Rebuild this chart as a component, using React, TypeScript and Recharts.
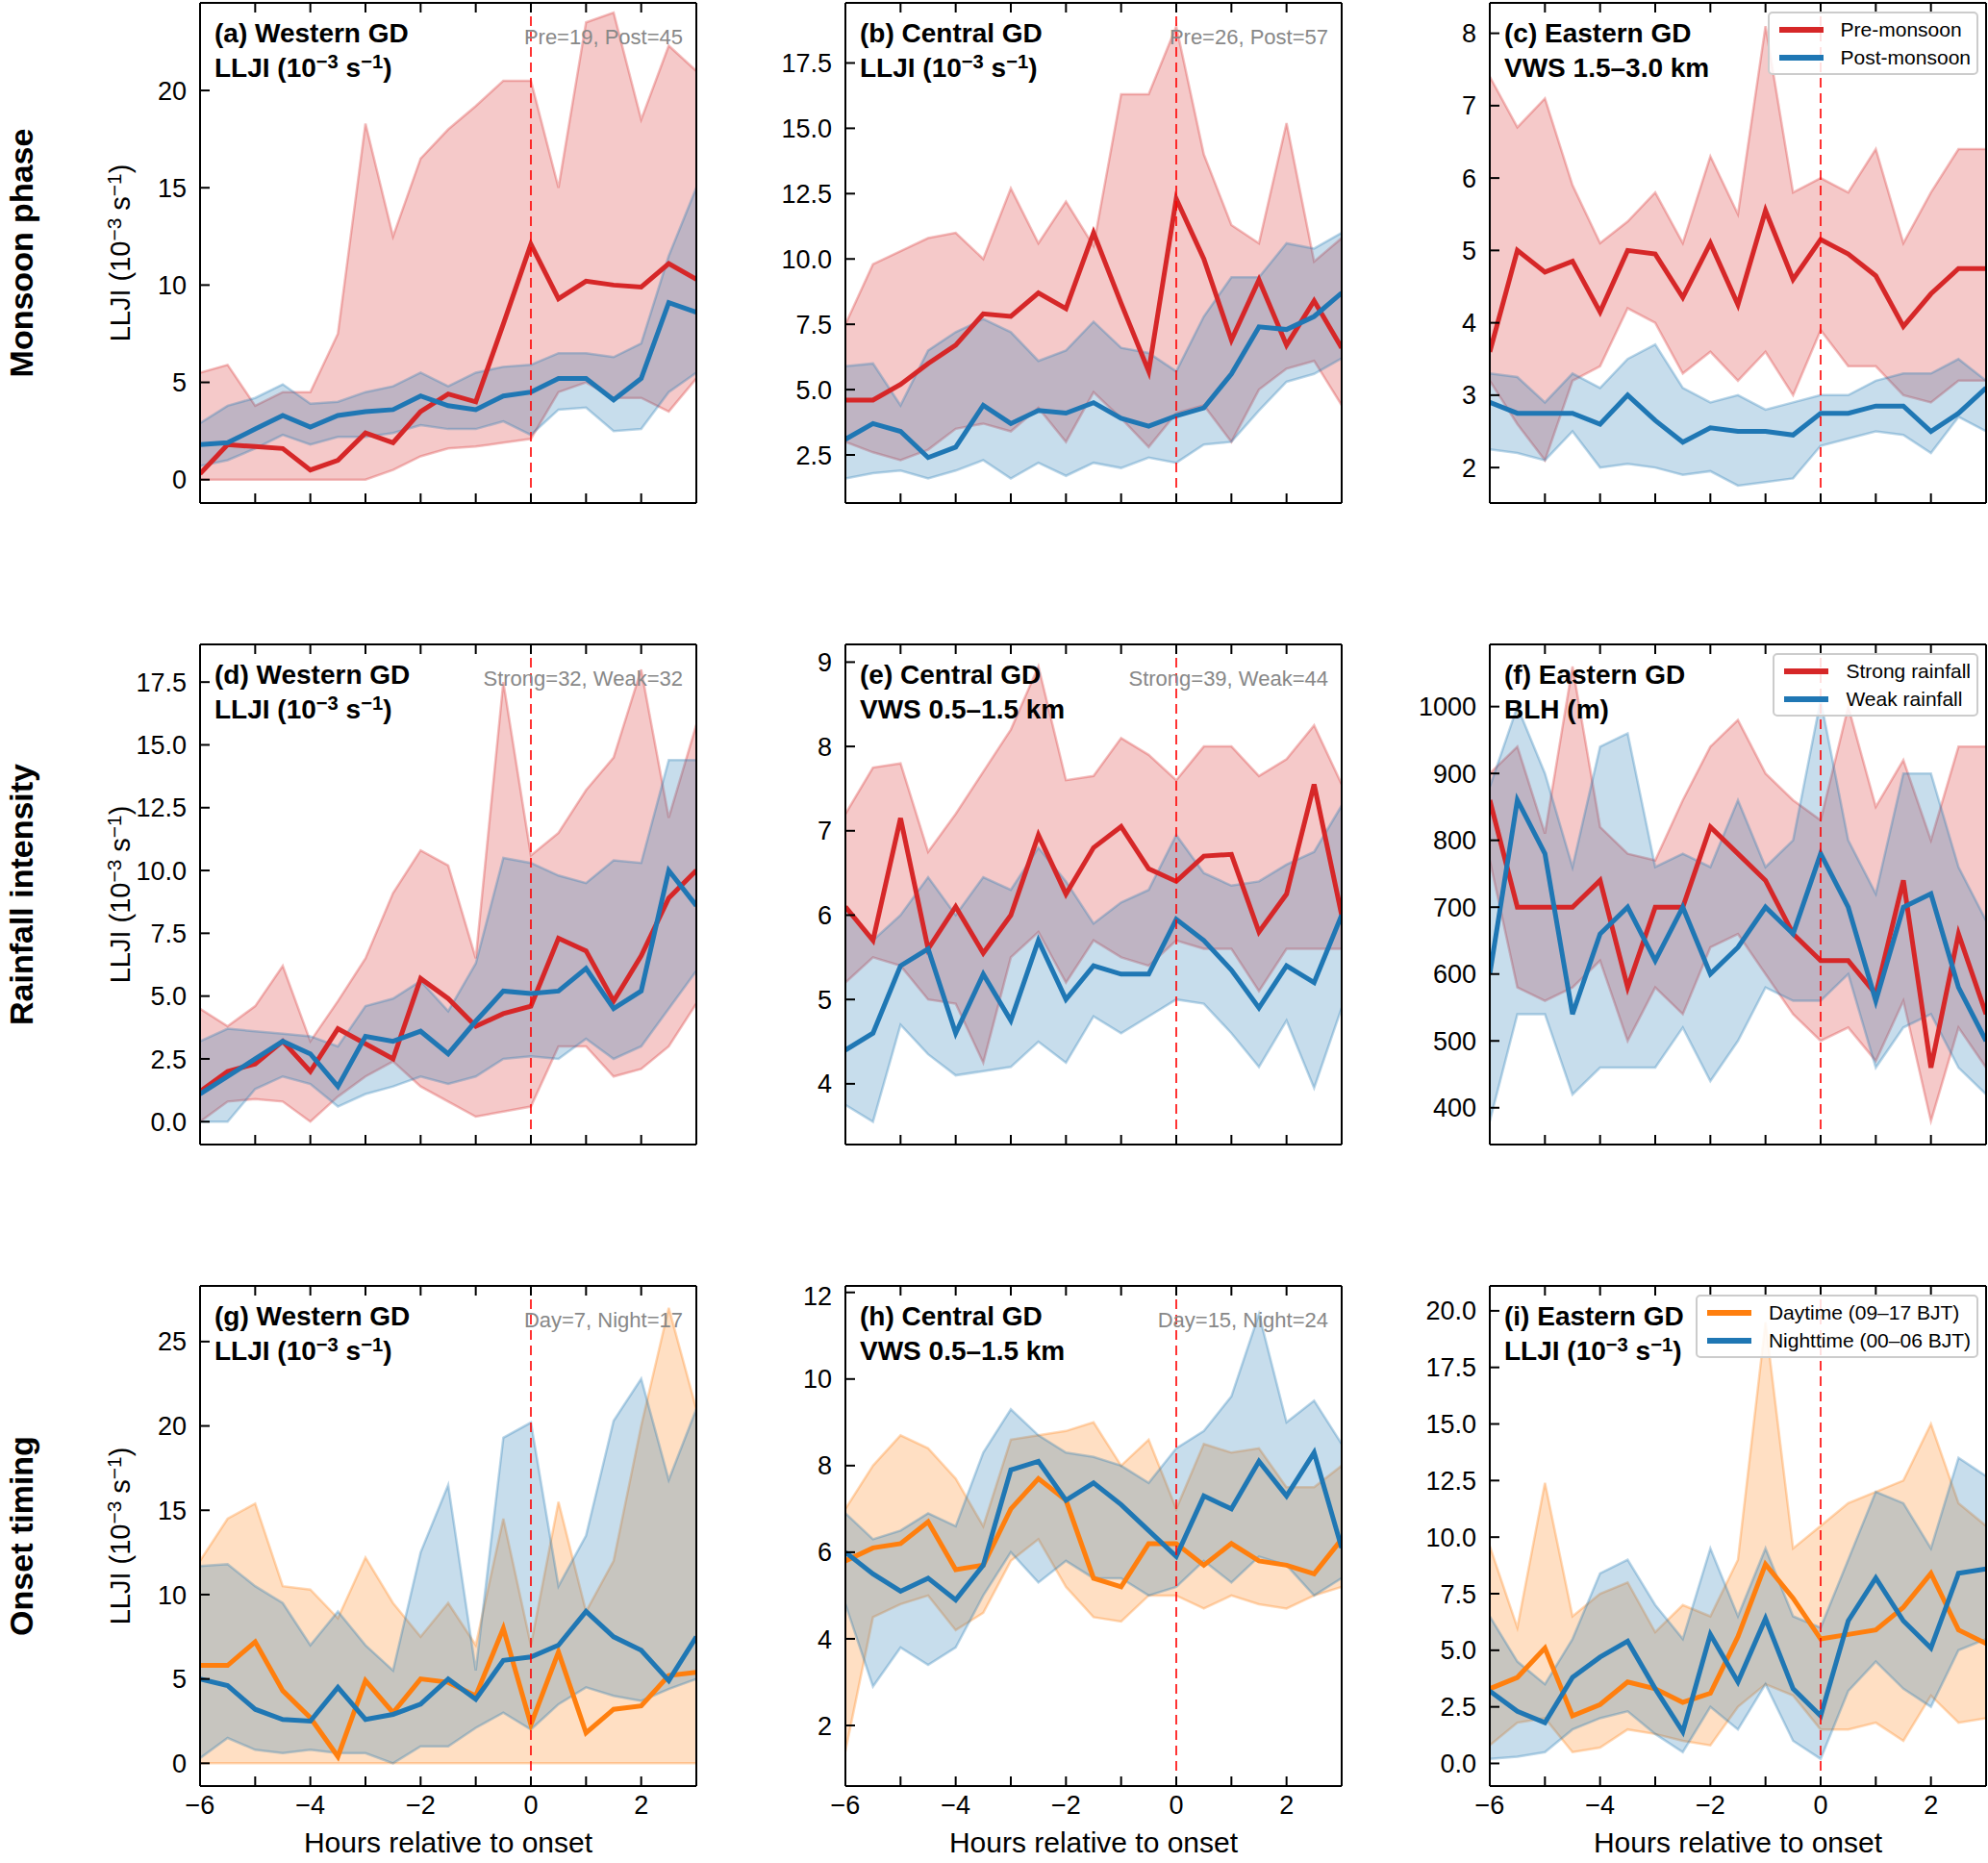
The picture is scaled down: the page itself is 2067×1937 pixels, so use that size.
import React from 'react';
import { ComposedChart, Area, Line, XAxis, YAxis, ReferenceLine } from 'recharts';

const hours = [-6, -5.5, -5, -4.5, -4, -3.5, -3, -2.5, -2, -1.5, -1, -0.5, 0, 0.5, 1, 1.5, 2, 2.5, 3];
const xTicks = [-6, -5, -4, -3, -2, -1, 0, 1, 2, 3];

// (a) Western GD, monsoon phase
const aPre = [0.3, 1.8, 1.7, 1.6, 0.5, 1.0, 2.4, 1.9, 3.5, 4.4, 4.0, 8.0, 12.1, 9.3, 10.2, 10.0, 9.9, 11.1, 10.3];
const aPreLo = [0, 0, 0, 0, 0, 0, 0, 0.5, 1.2, 1.6, 1.7, 1.9, 2.1, 4.5, 5.0, 4.2, 4.2, 3.5, 5.2];
const aPreHi = [5.5, 5.9, 3.8, 4.5, 4.5, 7.5, 18.3, 12.5, 16.5, 18.0, 19.2, 20.5, 20.5, 15.0, 23.5, 24.0, 18.5, 22.3, 21.0];
const aPost = [1.8, 1.9, 2.6, 3.3, 2.7, 3.3, 3.5, 3.6, 4.3, 3.8, 3.6, 4.3, 4.5, 5.2, 5.2, 4.1, 5.2, 9.1, 8.6];
const aPostLo = [0.7, 1.0, 1.6, 2.3, 1.8, 2.2, 2.2, 2.4, 2.8, 2.6, 2.6, 3.0, 2.3, 3.6, 3.7, 2.5, 2.6, 4.5, 5.5];
const aPostHi = [2.9, 3.8, 4.2, 4.9, 3.9, 4.0, 4.5, 4.8, 5.5, 4.8, 5.5, 5.8, 5.9, 6.5, 6.5, 6.3, 7.0, 11.5, 15.0];

// (b) Central GD, monsoon phase
const bPre = [4.6, 4.6, 5.2, 6.0, 6.7, 7.9, 7.8, 8.7, 8.1, 11.0, 8.3, 5.7, 12.3, 10.0, 6.9, 9.2, 6.7, 8.4, 6.6];
const bPreLo = [3.0, 2.6, 2.3, 2.7, 3.5, 3.7, 3.4, 4.3, 3.0, 4.9, 3.9, 2.8, 4.1, 4.4, 3.0, 5.0, 5.8, 6.1, 4.4];
const bPreHi = [7.5, 9.8, 10.3, 10.8, 11.0, 10.0, 12.7, 10.6, 12.2, 10.5, 16.3, 16.3, 18.9, 14.0, 11.3, 10.6, 15.2, 9.9, 10.8];
const bPost = [3.1, 3.7, 3.4, 2.4, 2.8, 4.4, 3.7, 4.2, 4.1, 4.5, 3.9, 3.6, 4.0, 4.3, 5.6, 7.4, 7.3, 7.8, 8.7];
const bPostLo = [1.6, 1.8, 1.9, 1.6, 1.9, 2.3, 1.6, 2.2, 1.7, 2.2, 2.0, 2.4, 2.2, 2.9, 3.0, 4.2, 5.3, 5.6, 6.2];
const bPostHi = [5.9, 6.0, 4.4, 6.5, 7.2, 7.7, 7.2, 6.1, 6.5, 7.6, 6.6, 6.4, 5.7, 7.8, 9.3, 9.3, 10.6, 10.4, 11.0];

// (c) Eastern GD, monsoon phase
const cPre = [3.6, 5.0, 4.7, 4.85, 4.15, 5.0, 4.95, 4.35, 5.1, 4.25, 5.55, 4.6, 5.15, 4.95, 4.65, 3.95, 4.4, 4.75, 4.75];
const cPreLo = [3.2, 2.6, 2.1, 3.2, 3.4, 4.2, 4.0, 3.3, 3.6, 3.2, 3.6, 3.0, 3.9, 3.4, 3.4, 3.0, 2.9, 3.2, 3.2];
const cPreHi = [7.4, 6.7, 7.1, 5.9, 5.1, 5.4, 5.8, 5.1, 6.3, 5.5, 8.1, 5.8, 6.0, 5.8, 6.4, 5.1, 5.8, 6.4, 6.4];
const cPost = [2.9, 2.75, 2.75, 2.75, 2.6, 3.0, 2.65, 2.35, 2.55, 2.5, 2.5, 2.45, 2.75, 2.75, 2.85, 2.85, 2.5, 2.75, 3.1];
const cPostLo = [2.25, 2.2, 2.1, 2.5, 2.0, 2.05, 2.0, 1.9, 1.95, 1.75, 1.8, 1.85, 2.3, 2.4, 2.5, 2.45, 2.2, 2.7, 2.5];
const cPostHi = [3.3, 3.25, 2.9, 3.3, 3.1, 3.5, 3.7, 3.1, 2.9, 3.0, 2.8, 2.9, 3.0, 3.0, 3.2, 3.3, 3.3, 3.5, 3.2];

// (d) Western GD, rainfall intensity
const dStrong = [1.2, 2.0, 2.3, 3.2, 2.0, 3.7, 3.1, 2.5, 5.7, 4.9, 3.8, 4.3, 4.6, 7.3, 6.8, 4.8, 6.6, 8.9, 10.0];
const dStrongLo = [0, 0.8, 0.9, 0.8, 0, 1.0, 1.8, 2.4, 1.4, 0.8, 0.2, 0.4, 0.6, 3.0, 3.0, 1.8, 2.1, 3.0, 4.7];
const dStrongHi = [4.5, 3.8, 4.6, 6.2, 3.2, 4.8, 6.5, 9.1, 10.8, 10.2, 6.5, 17.5, 10.6, 11.5, 13.2, 14.5, 18.0, 12.1, 15.8];
const dWeak = [1.1, 1.8, 2.5, 3.2, 2.7, 1.4, 3.4, 3.2, 3.6, 2.7, 4.0, 5.2, 5.1, 5.2, 6.1, 4.5, 5.2, 10.0, 8.6];
const dWeakLo = [0, 0, 1.3, 1.8, 1.5, 0.6, 1.1, 1.4, 1.8, 1.5, 1.8, 2.5, 2.6, 2.5, 3.3, 2.5, 3.0, 4.5, 6.0];
const dWeakHi = [3.2, 3.7, 3.6, 3.5, 3.4, 3.0, 4.6, 4.9, 5.6, 4.4, 6.3, 10.5, 10.3, 9.8, 9.5, 10.4, 10.3, 14.4, 14.4];

// (e) Central GD, rainfall intensity
const eStrong = [6.1, 5.7, 7.15, 5.6, 6.1, 5.55, 6.0, 6.95, 6.25, 6.8, 7.05, 6.55, 6.4, 6.7, 6.72, 5.8, 6.25, 7.55, 6.0];
const eStrongLo = [5.2, 5.5, 5.4, 5.0, 4.95, 4.25, 5.5, 5.8, 5.2, 5.7, 5.5, 5.4, 5.7, 5.6, 5.6, 5.1, 5.6, 5.6, 5.6];
const eStrongHi = [7.2, 7.75, 7.8, 6.75, 7.2, 7.7, 8.2, 8.95, 7.6, 7.65, 8.1, 7.9, 7.6, 8.0, 8.0, 7.65, 7.85, 8.25, 7.55];
const eWeak = [4.4, 4.6, 5.4, 5.6, 4.6, 5.3, 4.75, 5.7, 5.0, 5.4, 5.3, 5.3, 5.95, 5.7, 5.35, 4.9, 5.4, 5.2, 6.0];
const eWeakLo = [3.75, 3.55, 4.7, 4.35, 4.1, 4.15, 4.2, 4.5, 4.25, 4.8, 4.6, 4.8, 5.0, 4.95, 4.6, 4.2, 4.75, 3.95, 4.9];
const eWeakHi = [6.1, 5.7, 6.0, 6.45, 6.0, 6.45, 6.3, 6.8, 6.4, 5.9, 6.15, 6.3, 6.95, 6.5, 6.35, 6.4, 6.6, 6.75, 7.3];

// (f) Eastern GD, rainfall intensity (BLH)
const fStrong = [860, 700, 700, 700, 740, 580, 700, 700, 820, 780, 740, 660, 620, 620, 570, 740, 460, 660, 540];
const fStrongLo = [770, 580, 560, 580, 620, 500, 580, 540, 640, 660, 600, 540, 500, 520, 470, 560, 380, 520, 460];
const fStrongHi = [900, 940, 810, 1060, 820, 780, 770, 860, 940, 980, 900, 860, 830, 1000, 850, 920, 800, 940, 940];
const fWeak = [600, 860, 780, 540, 660, 700, 620, 700, 600, 640, 700, 660, 780, 700, 560, 700, 720, 580, 500];
const fWeakLo = [380, 540, 540, 420, 460, 460, 460, 520, 440, 500, 580, 560, 560, 600, 460, 520, 540, 460, 420];
const fWeakHi = [880, 1000, 900, 760, 940, 960, 760, 780, 760, 860, 760, 800, 1010, 800, 720, 900, 900, 760, 680];

// (g) Western GD, onset timing
const gDay = [5.8, 5.8, 7.2, 4.3, 2.7, 0.4, 4.9, 3.0, 5.0, 4.8, 4.0, 8.0, 2.3, 6.6, 1.8, 3.2, 3.4, 5.2, 5.4];
const gDayLo = [0, 0, 0, 0, 0, 0, 0, 0, 0, 0, 0, 0, 0, 0, 0, 0, 0, 0, 0];
const gDayHi = [12.0, 14.5, 15.4, 10.5, 10.3, 8.6, 12.2, 9.5, 7.5, 9.5, 7.0, 14.5, 7.0, 15.5, 9.0, 12.0, 20.0, 27.0, 21.0];
const gNight = [5.0, 4.6, 3.2, 2.6, 2.5, 4.5, 2.6, 2.9, 3.5, 5.0, 3.8, 6.1, 6.3, 7.0, 9.0, 7.5, 6.7, 4.9, 7.5];
const gNightLo = [0.3, 1.5, 0.8, 0.6, 0.8, 0.6, 0.6, 0, 1.0, 1.0, 2.1, 3.0, 2.0, 3.5, 4.5, 4.0, 3.7, 4.4, 5.0];
const gNightHi = [11.7, 11.8, 10.5, 9.5, 7.0, 9.0, 7.0, 5.5, 12.5, 16.5, 5.5, 19.3, 20.2, 10.5, 13.5, 20.3, 22.8, 16.8, 21.0];

// (h) Central GD, onset timing
const hDay = [5.8, 6.1, 6.2, 6.7, 5.6, 5.7, 7.0, 7.7, 7.2, 5.4, 5.2, 6.2, 6.2, 5.7, 6.2, 5.8, 5.7, 5.5, 6.3];
const hDayLo = [1.4, 4.5, 4.8, 5.0, 4.2, 4.6, 5.8, 6.3, 5.2, 4.5, 4.4, 5.0, 5.0, 4.7, 5.0, 4.8, 4.7, 5.0, 5.2];
const hDayHi = [7.0, 8.0, 8.7, 8.4, 7.7, 6.6, 8.6, 8.7, 8.8, 9.0, 8.0, 8.6, 7.0, 8.5, 8.3, 8.4, 7.5, 7.5, 8.0];
const hNight = [6.0, 5.5, 5.1, 5.4, 4.9, 5.7, 7.9, 8.1, 7.2, 7.6, 7.1, 6.5, 5.9, 7.3, 7.0, 8.1, 7.3, 8.3, 6.1];
const hNightLo = [4.8, 2.9, 3.8, 3.4, 3.8, 5.0, 6.0, 5.3, 5.8, 5.4, 5.4, 5.0, 5.2, 5.8, 5.3, 5.9, 5.7, 5.0, 5.4];
const hNightHi = [6.9, 6.3, 6.5, 6.9, 6.6, 8.3, 9.3, 8.7, 8.3, 8.2, 8.0, 7.6, 8.4, 8.8, 9.6, 11.5, 9.0, 9.5, 8.5];

// (i) Eastern GD, onset timing
const iDay = [3.3, 3.8, 5.1, 2.1, 2.6, 3.6, 3.3, 2.7, 3.1, 5.6, 8.8, 7.3, 5.5, 5.7, 5.9, 6.9, 8.4, 5.9, 5.3];
const iDayLo = [0.8, 1.8, 2.0, 0.5, 0.7, 1.5, 1.3, 1.0, 0.8, 2.5, 3.5, 3.0, 1.5, 1.5, 1.8, 1.0, 3.0, 1.8, 2.0];
const iDayHi = [9.6, 6.0, 12.4, 6.5, 7.5, 8.0, 5.8, 7.0, 6.5, 9.0, 19.5, 9.5, 10.5, 11.5, 12.0, 12.5, 15.0, 11.5, 10.5];
const iNight = [3.2, 2.3, 1.8, 3.8, 4.7, 5.4, 3.3, 1.4, 5.7, 3.6, 6.4, 3.3, 2.1, 6.3, 8.2, 6.3, 5.1, 8.4, 8.6];
const iNightLo = [0.2, 0.3, 0.5, 1.5, 2.0, 2.3, 1.3, 0.5, 2.5, 1.5, 3.5, 1.0, 0.2, 3.2, 4.5, 3.3, 2.5, 5.0, 5.5];
const iNightHi = [6.5, 4.5, 3.5, 5.5, 8.4, 9.0, 7.0, 5.5, 9.5, 6.5, 9.5, 6.5, 6.0, 9.0, 12.0, 11.5, 9.5, 13.5, 12.7];

const RED = '#d62728';
const BLUE = '#1f77b4';
const ORANGE = '#ff7f0e';
const FONT = '"Liberation Sans", Arial, sans-serif';

const LEFTS = [208, 879, 1549];
const TOPS = [3, 670, 1337];
const PW = 516;
const PH = 520;

type S = { mid: number[]; lo: number[]; hi: number[]; color: string };

const supStyle = { fontSize: '0.72em', position: 'relative' as const, top: '-0.45em', verticalAlign: 'baseline' };
const LLJI = (
  <>
    LLJI (10<span style={supStyle}>−3</span> s<span style={supStyle}>−1</span>)
  </>
);

const fmtNum = (dec: number) => (v: number) => {
  const s = Math.abs(v).toFixed(dec);
  return v < 0 ? '\u2212' + s : s;
};

function Panel(props: {
  col: number; row: number; s1: S; s2: S; domain: [number, number]; yTicks: number[]; yDec: number;
  title: string; sub: React.ReactNode; count?: string; legend?: string[];
}) {
  const { col, row, s1, s2, domain, yTicks, yDec } = props;
  const data = hours.map((h, i) => ({
    h, m1: s1.mid[i], r1: [s1.lo[i], s1.hi[i]], m2: s2.mid[i], r2: [s2.lo[i], s2.hi[i]],
  }));
  const left = LEFTS[col];
  const top = TOPS[row];
  const bottomRow = row === 2;
  const tickStyle = { fill: '#000', fontSize: 27, fontFamily: FONT };
  return (
    <>
      <div style={{ position: 'absolute', left: left - 100, top: top - 5 }}>
        <ComposedChart width={100 + PW + 6} height={5 + PH + 60} data={data}
          margin={{ top: 4, right: 5, left: 0, bottom: 0 }}>
          <XAxis dataKey="h" type="number" domain={[-6, 3]} ticks={xTicks} xAxisId="b"
            orientation="bottom" height={60} tickSize={-10} tickMargin={20}
            tickFormatter={(v: number) => (bottomRow && v % 2 === 0 ? fmtNum(0)(v) : '')}
            tick={tickStyle} stroke="#000" axisLine={{ stroke: '#000', strokeWidth: 2 }}
            tickLine={{ stroke: '#000', strokeWidth: 2 }} allowDataOverflow />
          <XAxis dataKey="h" type="number" domain={[-6, 3]} ticks={xTicks} xAxisId="t"
            orientation="top" height={1} tickSize={-10} tickFormatter={() => ''}
            axisLine={{ stroke: '#000', strokeWidth: 2 }} tickLine={{ stroke: '#000', strokeWidth: 2 }} />
          <YAxis type="number" domain={domain} ticks={yTicks} yAxisId="l" width={100}
            tickSize={-10} tickMargin={24} tickFormatter={fmtNum(yDec)} tick={tickStyle}
            axisLine={{ stroke: '#000', strokeWidth: 2 }} tickLine={{ stroke: '#000', strokeWidth: 2 }}
            allowDataOverflow />
          <YAxis type="number" domain={domain} ticks={yTicks} yAxisId="r" orientation="right" width={1}
            tickSize={-10} tickFormatter={() => ''}
            axisLine={{ stroke: '#000', strokeWidth: 2 }} tickLine={{ stroke: '#000', strokeWidth: 2 }} />
          <Area xAxisId="b" yAxisId="l" dataKey="r1" type="linear" fill={s1.color} fillOpacity={0.25}
            stroke={s1.color} strokeOpacity={0.3} strokeWidth={2.5} isAnimationActive={false} />
          <Area xAxisId="b" yAxisId="l" dataKey="r2" type="linear" fill={s2.color} fillOpacity={0.25}
            stroke={s2.color} strokeOpacity={0.3} strokeWidth={2.5} isAnimationActive={false} />
          <Line xAxisId="b" yAxisId="l" dataKey="m1" type="linear" stroke={s1.color} strokeWidth={5}
            dot={false} isAnimationActive={false} />
          <Line xAxisId="b" yAxisId="l" dataKey="m2" type="linear" stroke={s2.color} strokeWidth={5}
            dot={false} isAnimationActive={false} />
          <ReferenceLine xAxisId="b" yAxisId="l" x={0} stroke="#ff0000" strokeDasharray="10 6"
            strokeWidth={2} strokeOpacity={0.8} />
        </ComposedChart>
      </div>
      <div style={{ position: 'absolute', left: left + 15, top: top + 14, fontFamily: FONT, fontWeight: 700,
        fontSize: 28, lineHeight: '36px', color: '#000', whiteSpace: 'nowrap' }}>
        <div>{props.title}</div>
        <div>{props.sub}</div>
      </div>
      {props.count && (
        <div style={{ position: 'absolute', right: 2067 - (left + PW - 14), top: top + 23, fontFamily: FONT,
          fontSize: 22, color: '#888', whiteSpace: 'nowrap' }}>{props.count}</div>
      )}
      {props.legend && (
        <div style={{ position: 'absolute', right: 2067 - (left + PW - 8), top: top + 9, fontFamily: FONT,
          fontSize: 21, color: '#000', background: 'rgba(255,255,255,0.85)', border: '2px solid #ccc',
          borderRadius: 5, padding: '2px 6px 2px 10px', lineHeight: '29px' }}>
          {[s1.color, s2.color].map((c, i) => (
            <div key={i} style={{ display: 'flex', alignItems: 'center', whiteSpace: 'nowrap' }}>
              <span style={{ display: 'inline-block', width: 46, height: 6, background: c, marginRight: 18 }} />
              {props.legend![i]}
            </div>
          ))}
        </div>
      )}
      {col === 0 && (
        <div style={{ position: 'absolute', left: 125, top: top + PH / 2, transform: 'translate(-50%,-50%) rotate(-90deg)',
          fontFamily: FONT, fontSize: 29, whiteSpace: 'nowrap' }}>{LLJI}</div>
      )}
      {bottomRow && (
        <div style={{ position: 'absolute', left: left + PW / 2, top: 1916, transform: 'translate(-50%,-50%)',
          fontFamily: FONT, fontSize: 30, lineHeight: '34px', whiteSpace: 'nowrap' }}>Hours relative to onset</div>
      )}
    </>
  );
}

const rowLabels = ['Monsoon phase', 'Rainfall intensity', 'Onset timing'];

export default function App() {
  const sr = (mid: number[], lo: number[], hi: number[], color: string): S => ({ mid, lo, hi, color });
  return (
    <div style={{ position: 'absolute', left: 0, top: 0, width: 2067, height: 1937, background: '#fff', overflow: 'hidden' }}>
      {rowLabels.map((t, r) => (
        <div key={t} style={{ position: 'absolute', left: 22, top: TOPS[r] + PH / 2,
          transform: 'translate(-50%,-50%) rotate(-90deg)', fontFamily: FONT, fontWeight: 700, fontSize: 34,
          lineHeight: '38px', whiteSpace: 'nowrap' }}>{t}</div>
      ))}
      <Panel col={0} row={0} s1={sr(aPre, aPreLo, aPreHi, RED)} s2={sr(aPost, aPostLo, aPostHi, BLUE)}
        domain={[-1.2, 24.5]} yTicks={[0, 5, 10, 15, 20]} yDec={0} title="(a) Western GD" sub={LLJI} count="Pre=19, Post=45" />
      <Panel col={1} row={0} s1={sr(bPre, bPreLo, bPreHi, RED)} s2={sr(bPost, bPostLo, bPostHi, BLUE)}
        domain={[0.66, 19.8]} yTicks={[2.5, 5, 7.5, 10, 12.5, 15, 17.5]} yDec={1} title="(b) Central GD" sub={LLJI} count="Pre=26, Post=57" />
      <Panel col={2} row={0} s1={sr(cPre, cPreLo, cPreHi, RED)} s2={sr(cPost, cPostLo, cPostHi, BLUE)}
        domain={[1.51, 8.42]} yTicks={[2, 3, 4, 5, 6, 7, 8]} yDec={0} title="(c) Eastern GD" sub="VWS 1.5–3.0 km"
        legend={['Pre-monsoon', 'Post-monsoon']} />
      <Panel col={0} row={1} s1={sr(dStrong, dStrongLo, dStrongHi, RED)} s2={sr(dWeak, dWeakLo, dWeakHi, BLUE)}
        domain={[-0.91, 19.0]} yTicks={[0, 2.5, 5, 7.5, 10, 12.5, 15, 17.5]} yDec={1} title="(d) Western GD" sub={LLJI} count="Strong=32, Weak=32" />
      <Panel col={1} row={1} s1={sr(eStrong, eStrongLo, eStrongHi, RED)} s2={sr(eWeak, eWeakLo, eWeakHi, BLUE)}
        domain={[3.28, 9.21]} yTicks={[4, 5, 6, 7, 8, 9]} yDec={0} title="(e) Central GD" sub="VWS 0.5–1.5 km" count="Strong=39, Weak=44" />
      <Panel col={2} row={1} s1={sr(fStrong, fStrongLo, fStrongHi, RED)} s2={sr(fWeak, fWeakLo, fWeakHi, BLUE)}
        domain={[345, 1093]} yTicks={[400, 500, 600, 700, 800, 900, 1000]} yDec={0} title="(f) Eastern GD" sub="BLH (m)"
        legend={['Strong rainfall', 'Weak rainfall']} />
      <Panel col={0} row={2} s1={sr(gDay, gDayLo, gDayHi, ORANGE)} s2={sr(gNight, gNightLo, gNightHi, BLUE)}
        domain={[-1.35, 28.3]} yTicks={[0, 5, 10, 15, 20, 25]} yDec={0} title="(g) Western GD" sub={LLJI} count="Day=7, Night=17" />
      <Panel col={1} row={2} s1={sr(hDay, hDayLo, hDayHi, ORANGE)} s2={sr(hNight, hNightLo, hNightHi, BLUE)}
        domain={[0.6, 12.15]} yTicks={[2, 4, 6, 8, 10, 12]} yDec={0} title="(h) Central GD" sub="VWS 0.5–1.5 km" count="Day=15, Night=24" />
      <Panel col={2} row={2} s1={sr(iDay, iDayLo, iDayHi, ORANGE)} s2={sr(iNight, iNightLo, iNightHi, BLUE)}
        domain={[-1.0, 21.1]} yTicks={[0, 2.5, 5, 7.5, 10, 12.5, 15, 17.5, 20]} yDec={1} title="(i) Eastern GD" sub={LLJI}
        legend={['Daytime (09–17 BJT)', 'Nighttime (00–06 BJT)']} />
    </div>
  );
}
